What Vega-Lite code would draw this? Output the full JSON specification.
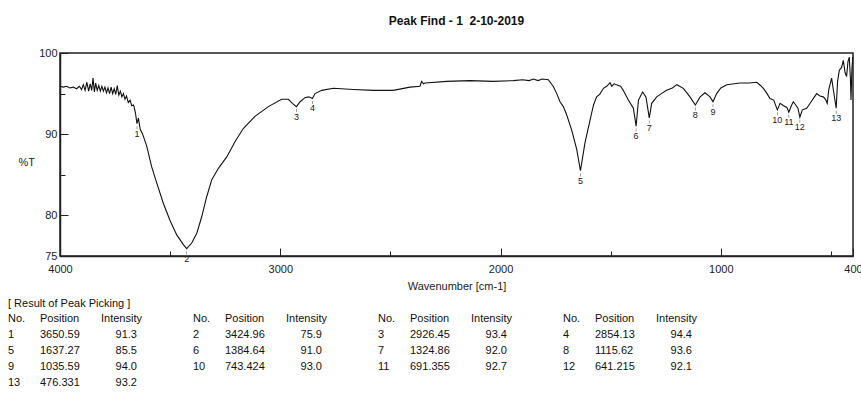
{
  "$schema": "https://vega.github.io/schema/vega-lite/v6.json",
  "background": "white",
  "padding": {"left": 8, "top": 14, "right": 0, "bottom": 0},
  "autosize": {"type": "pad"},
  "bounds": "flush",
  "spacing": 55,
  "resolve": {"scale": {"x": "independent", "y": "independent"}},
  "config": {
    "font": "Liberation Sans",
    "view": {"stroke": null},
    "axis": {"labelColor": "#222", "titleColor": "#222", "tickColor": "#222", "domainColor": "#222"}
  },
  "datasets": {
    "spectrum": [
      {"w":4000,"t":95.9},{"w":3985,"t":95.8},{"w":3970,"t":95.9},{"w":3955,"t":95.7},{"w":3940,"t":95.8},
      {"w":3925,"t":95.6},{"w":3912,"t":95.9},{"w":3902,"t":95.5},{"w":3894,"t":96.1},{"w":3886,"t":95.4},
      {"w":3878,"t":96.4},{"w":3870,"t":95.3},{"w":3863,"t":96.2},{"w":3856,"t":95.4},{"w":3850,"t":96.9},
      {"w":3844,"t":95.2},{"w":3838,"t":96.3},{"w":3831,"t":95.4},{"w":3824,"t":96.0},{"w":3817,"t":95.3},
      {"w":3810,"t":95.9},{"w":3803,"t":95.3},{"w":3796,"t":95.8},{"w":3789,"t":95.1},{"w":3782,"t":95.7},
      {"w":3775,"t":95.0},{"w":3768,"t":95.8},{"w":3761,"t":95.0},{"w":3754,"t":95.6},{"w":3747,"t":94.9},
      {"w":3740,"t":96.0},{"w":3733,"t":94.8},{"w":3726,"t":95.3},{"w":3719,"t":94.6},{"w":3712,"t":95.0},
      {"w":3705,"t":94.3},{"w":3698,"t":94.7},{"w":3690,"t":93.9},{"w":3682,"t":94.2},{"w":3674,"t":93.5},
      {"w":3666,"t":93.6},{"w":3658,"t":92.7},{"w":3650.59,"t":91.3},{"w":3644,"t":92.0},{"w":3636,"t":90.6},
      {"w":3626,"t":90.1},{"w":3606,"t":88.5},{"w":3584,"t":86.0},{"w":3561,"t":84.0},{"w":3531,"t":81.5},
      {"w":3501,"t":79.4},{"w":3470,"t":77.6},{"w":3440,"t":76.4},{"w":3424.96,"t":75.9},{"w":3402,"t":76.6},
      {"w":3379,"t":77.8},{"w":3357,"t":79.8},{"w":3334,"t":82.3},{"w":3311,"t":84.4},{"w":3281,"t":85.8},
      {"w":3243,"t":87.2},{"w":3205,"t":89.1},{"w":3168,"t":90.7},{"w":3115,"t":92.2},{"w":3054,"t":93.4},
      {"w":2994,"t":94.3},{"w":2963,"t":94.3},{"w":2945,"t":93.8},{"w":2926.45,"t":93.4},{"w":2910,"t":94.0},
      {"w":2888,"t":94.5},{"w":2870,"t":94.6},{"w":2854.13,"t":94.4},{"w":2842,"t":95.0},{"w":2812,"t":95.4},
      {"w":2759,"t":95.65},{"w":2668,"t":95.5},{"w":2578,"t":95.4},{"w":2487,"t":95.4},{"w":2411,"t":95.8},
      {"w":2366,"t":95.9},{"w":2358,"t":96.5},{"w":2350,"t":96.2},{"w":2343,"t":96.3},{"w":2244,"t":96.5},
      {"w":2139,"t":96.6},{"w":2033,"t":96.5},{"w":1942,"t":96.6},{"w":1900,"t":96.7},{"w":1870,"t":96.6},
      {"w":1851,"t":96.8},{"w":1830,"t":96.6},{"w":1810,"t":96.8},{"w":1783,"t":96.7},{"w":1760,"t":95.85},
      {"w":1745,"t":95.0},{"w":1730,"t":94.0},{"w":1715,"t":93.4},{"w":1700,"t":92.4},{"w":1677,"t":90.5},
      {"w":1654,"t":88.1},{"w":1637.27,"t":85.5},{"w":1617,"t":88.9},{"w":1594,"t":91.7},{"w":1578,"t":93.6},
      {"w":1564,"t":94.6},{"w":1550,"t":94.9},{"w":1533,"t":95.65},{"w":1518,"t":95.9},{"w":1503,"t":96.35},
      {"w":1495,"t":95.9},{"w":1485,"t":96.2},{"w":1465,"t":96.0},{"w":1455,"t":95.9},{"w":1443,"t":95.4},
      {"w":1420,"t":94.2},{"w":1397,"t":93.2},{"w":1384.64,"t":91.0},{"w":1374,"t":94.2},{"w":1355,"t":95.2},
      {"w":1340,"t":94.6},{"w":1324.86,"t":92.0},{"w":1314,"t":93.8},{"w":1291,"t":94.6},{"w":1270,"t":95.0},
      {"w":1246,"t":95.4},{"w":1220,"t":95.7},{"w":1200,"t":96.1},{"w":1170,"t":95.65},{"w":1140,"t":94.6},
      {"w":1115.62,"t":93.6},{"w":1094,"t":94.6},{"w":1072,"t":95.1},{"w":1049,"t":94.6},{"w":1035.59,"t":94.0},
      {"w":1019,"t":95.0},{"w":1000,"t":95.7},{"w":973,"t":96.1},{"w":913,"t":96.3},{"w":870,"t":96.3},
      {"w":837,"t":96.4},{"w":820,"t":96.0},{"w":807,"t":95.65},{"w":790,"t":95.0},{"w":777,"t":94.4},
      {"w":760,"t":94.2},{"w":743.424,"t":93.0},{"w":731,"t":93.8},{"w":715,"t":93.5},{"w":700,"t":93.3},
      {"w":691.355,"t":92.7},{"w":680,"t":93.5},{"w":671,"t":94.0},{"w":660,"t":93.6},{"w":650,"t":93.2},
      {"w":641.215,"t":92.1},{"w":630,"t":93.0},{"w":610,"t":93.2},{"w":590,"t":94.0},{"w":575,"t":94.6},
      {"w":565,"t":95.0},{"w":550,"t":94.7},{"w":535,"t":94.6},{"w":525,"t":94.3},{"w":517,"t":93.8},
      {"w":510,"t":95.5},{"w":497,"t":96.9},{"w":490,"t":95.6},{"w":476.331,"t":93.2},{"w":470,"t":96.5},
      {"w":462,"t":97.9},{"w":452,"t":98.2},{"w":444,"t":99.1},{"w":436,"t":97.6},{"w":429,"t":97.1},
      {"w":423,"t":98.9},{"w":417,"t":99.5},{"w":412,"t":97.0},{"w":409,"t":94.2},{"w":405,"t":98.0},
      {"w":401,"t":99.5}
    ],
    "peaks": [
      {"no":1,"position":3650.59,"intensity":91.3,"group":1,"row":"1"},
      {"no":2,"position":3424.96,"intensity":75.9,"group":2,"row":"1"},
      {"no":3,"position":2926.45,"intensity":93.4,"group":3,"row":"1"},
      {"no":4,"position":2854.13,"intensity":94.4,"group":4,"row":"1"},
      {"no":5,"position":1637.27,"intensity":85.5,"group":1,"row":"2"},
      {"no":6,"position":1384.64,"intensity":91.0,"group":2,"row":"2"},
      {"no":7,"position":1324.86,"intensity":92.0,"group":3,"row":"2"},
      {"no":8,"position":1115.62,"intensity":93.6,"group":4,"row":"2"},
      {"no":9,"position":1035.59,"intensity":94.0,"group":1,"row":"3"},
      {"no":10,"position":743.424,"intensity":93.0,"group":2,"row":"3"},
      {"no":11,"position":691.355,"intensity":92.7,"group":3,"row":"3"},
      {"no":12,"position":641.215,"intensity":92.1,"group":4,"row":"3"},
      {"no":13,"position":476.331,"intensity":93.2,"group":1,"row":"4"}
    ],
    "groups": [{"group":1},{"group":2},{"group":3},{"group":4}]
  },
  "vconcat": [
    {
      "width": 793,
      "height": 203,
      "title": {"text": "Peak Find - 1\u00a0 2-10-2019", "fontSize": 12, "fontWeight": "bold", "frame": "group", "anchor": "middle", "offset": 19, "color": "#111"},
      "view": {"stroke": "#222", "strokeWidth": 1.5},
      "layer": [
        {
          "data": {"name": "spectrum"},
          "mark": {"type": "line", "color": "#111", "strokeWidth": 1.1},
          "encoding": {
            "x": {
              "field": "w", "type": "quantitative",
              "scale": {"domain": [400, 4000], "reverse": true, "nice": false, "zero": false},
              "axis": {
                "title": "Wavenumber [cm-1]",
                "values": [4000, 3500, 3000, 2500, 2000, 1500, 1000, 500, 400],
                "format": "d",
                "labelExpr": "datum.value % 1000 == 0 || datum.value == 400 ? datum.label : ''",
                "tickSize": {"condition": {"test": "datum.value % 1000 == 500", "value": -5}, "value": -8},
                "labelPadding": 15,
                "labelFontSize": 11,
                "labelFlush": false,
                "labelOverlap": false,
                "titleFontSize": 11,
                "titleFontWeight": "normal",
                "titlePadding": 3,
                "domainWidth": 1.5,
                "grid": false
              }
            },
            "y": {
              "field": "t", "type": "quantitative",
              "scale": {"domain": [75, 100], "nice": false, "zero": false},
              "axis": {
                "title": "%T",
                "values": [100, 95, 90, 85, 80, 75],
                "labelExpr": "datum.value == 95 || datum.value == 85 ? '' : datum.label",
                "tickSize": {"condition": {"test": "datum.value == 95 || datum.value == 85", "value": -5}, "value": -8},
                "labelPadding": 11,
                "labelFontSize": 11,
                "labelFlush": false,
                "labelOverlap": false,
                "titleAngle": 0,
                "titleAlign": "left",
                "titleBaseline": "middle",
                "titleX": -42,
                "titleY": 109,
                "titleFontSize": 11,
                "titleFontWeight": "normal",
                "domainWidth": 1.5,
                "grid": false
              }
            }
          }
        },
        {
          "data": {"name": "peaks"},
          "mark": {"type": "tick", "orient": "vertical", "size": 3, "thickness": 0.8, "yOffset": 4, "color": "#555"},
          "encoding": {
            "x": {"field": "position", "type": "quantitative"},
            "y": {"field": "intensity", "type": "quantitative"}
          }
        },
        {
          "data": {"name": "peaks"},
          "mark": {"type": "text", "fontSize": 9, "dy": 10, "color": "#222"},
          "encoding": {
            "x": {"field": "position", "type": "quantitative"},
            "y": {"field": "intensity", "type": "quantitative"},
            "text": {"field": "no", "type": "nominal"}
          }
        }
      ]
    },
    {
      "width": 555,
      "height": 80,
      "title": {"text": "[ Result of Peak Picking ]", "anchor": "start", "fontSize": 11, "fontWeight": "normal", "offset": 2, "color": "#111"},
      "view": {"stroke": null},
      "encoding": {
        "x": {"field": "group", "type": "ordinal", "scale": {"type": "point", "padding": 0, "domain": [1, 2, 3, 4]}, "axis": null}
      },
      "layer": [
        {
          "data": {"name": "groups"},
          "mark": {"type": "text", "text": "No.", "align": "left", "dx": -52, "fontSize": 11, "color": "#111"},
          "encoding": {"y": {"datum": "h", "type": "ordinal", "scale": {"type": "point", "padding": 0.5, "domain": ["h", "1", "2", "3", "4"]}, "axis": null}}
        },
        {
          "data": {"name": "groups"},
          "mark": {"type": "text", "text": "Position", "align": "left", "dx": -20, "fontSize": 11, "color": "#111"},
          "encoding": {"y": {"datum": "h", "type": "ordinal"}}
        },
        {
          "data": {"name": "groups"},
          "mark": {"type": "text", "text": "Intensity", "align": "left", "dx": 41, "fontSize": 11, "color": "#111"},
          "encoding": {"y": {"datum": "h", "type": "ordinal"}}
        },
        {
          "data": {"name": "peaks"},
          "mark": {"type": "text", "align": "left", "dx": -52, "fontSize": 11, "color": "#111"},
          "encoding": {"y": {"field": "row", "type": "ordinal"}, "text": {"field": "no", "type": "nominal"}}
        },
        {
          "data": {"name": "peaks"},
          "mark": {"type": "text", "align": "left", "dx": -20, "fontSize": 11, "color": "#111"},
          "encoding": {"y": {"field": "row", "type": "ordinal"}, "text": {"field": "position", "type": "quantitative", "format": ".6"}}
        },
        {
          "data": {"name": "peaks"},
          "mark": {"type": "text", "align": "right", "dx": 77, "fontSize": 11, "color": "#111"},
          "encoding": {"y": {"field": "row", "type": "ordinal"}, "text": {"field": "intensity", "type": "quantitative", "format": ".1f"}}
        }
      ]
    }
  ]
}
